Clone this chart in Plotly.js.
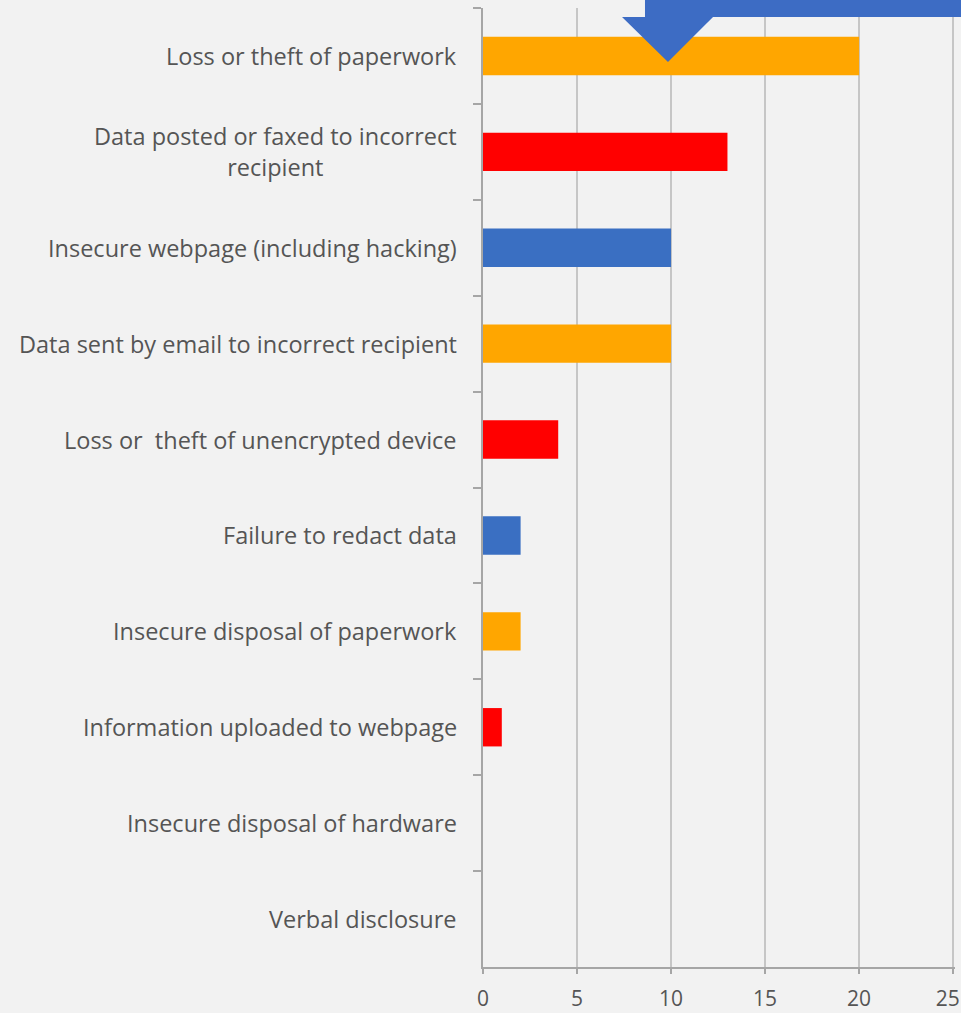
<!DOCTYPE html>
<html>
<head>
<meta charset="utf-8">
<script src="https://cdn.plot.ly/plotly-3.0.1.min.js"></script>
<style>
  html, body { margin: 0; padding: 0; background: #f2f2f2; }
  #chart { width: 961px; height: 1013px; }
</style>
</head>
<body>
<div id="chart"></div>
<script>
const categories = [
  "Loss or theft of paperwork",
  "Data posted or faxed to incorrect<br>recipient",
  "Insecure webpage (including hacking)",
  "Data sent by email to incorrect recipient",
  "Loss or  theft of unencrypted device",
  "Failure to redact data",
  "Insecure disposal of paperwork",
  "Information uploaded to webpage",
  "Insecure disposal of hardware",
  "Verbal disclosure"
];
const values = [20, 13, 10, 10, 4, 2, 2, 1, 0, 0];
const barColors = ["#FFA600", "#FF0000", "#3A6FC2", "#FFA600", "#FF0000", "#3A6FC2", "#FFA600", "#FF0000", "#3A6FC2", "#FFA600"];
const xTickValues = [0, 5, 10, 15, 20, 25];
const xTickLabels = ["0", "5", "10", "15", "20", "25"];

const textColor = "#555555";
const labelFont = { family: "Open Sans, sans-serif", size: 23.5, color: textColor };

// keep the last tick label inside the page by padding it on the right
const shownTickText = xTickLabels.map((t, i) => i === xTickLabels.length - 1 ? t + "\u00a0\u00a0" : t);

const trace = {
  type: "bar",
  orientation: "h",
  x: values,
  y: categories,
  width: 0.4,
  marker: { color: barColors },
  hoverinfo: "x+y"
};

const annotations = categories.map(c => ({
  x: 0, y: c, xref: "x", yref: "y",
  text: c, showarrow: false,
  xanchor: "right", yanchor: "middle",
  xshift: -24, align: "center",
  font: labelFont
}));

const layout = {
  width: 961, height: 1013,
  margin: { l: 483, r: 6, t: 8, b: 46 },
  paper_bgcolor: "#f2f2f2",
  plot_bgcolor: "#f2f2f2",
  showlegend: false,
  xaxis: {
    range: [0, 25.1],
    tickvals: xTickValues,
    ticktext: shownTickText,
    showgrid: true,
    gridcolor: "#c6c6c6",
    gridwidth: 2,
    zeroline: false,
    showline: true,
    linecolor: "#a6a6a6",
    linewidth: 2,
    ticks: "outside",
    ticklen: 5,
    tickcolor: "#a6a6a6",
    tickwidth: 2,
    ticklabelstandoff: 7,
    ticklabeloverflow: "allow",
    tickfont: { family: "Open Sans, sans-serif", size: 21, color: textColor }
  },
  yaxis: {
    type: "category",
    autorange: "reversed",
    showticklabels: false,
    showgrid: false,
    zeroline: false,
    showline: true,
    linecolor: "#a6a6a6",
    linewidth: 2,
    ticks: "outside",
    tickson: "boundaries",
    ticklen: 8,
    tickcolor: "#a6a6a6",
    tickwidth: 2
  },
  annotations: annotations,
  shapes: [{
    type: "path",
    xref: "paper", yref: "paper",
    path: "M 0.3432,1.02 L 1.03,1.02 L 1.03,0.9906 L 0.4873,0.9906 L 0.3919,0.9437 L 0.2945,0.9906 L 0.3432,0.9906 Z",
    fillcolor: "#3D6CC4",
    line: { width: 0 },
    layer: "above"
  }]
};

Plotly.newPlot("chart", [trace], layout, { displayModeBar: false, staticPlot: true });
</script>
</body>
</html>
